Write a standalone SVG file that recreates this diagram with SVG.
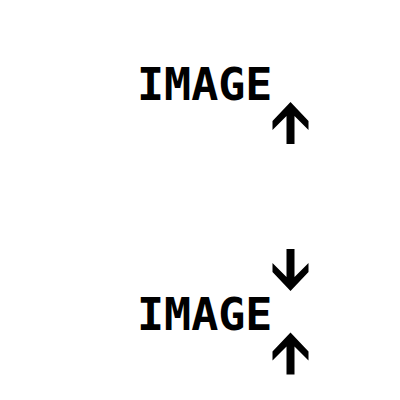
<svg xmlns="http://www.w3.org/2000/svg" width="400" height="400" viewBox="0 0 400 400">
<style>
.lbl{font-family:"DejaVu Sans Mono","Liberation Mono",monospace;font-weight:bold;font-size:45px;fill:#000}
.arr{fill:#000}
</style>
<defs>
<path id="up" d="M0,0 L18,19 L18,28 L4,14 L4,42 L-4,42 L-4,14 L-18,28 L-18,19 Z"/>
</defs>
<rect width="400" height="400" fill="#fff"/>
<g id="node1">
<text class="lbl" x="137" y="99.5">IMAGE</text>
<use href="#up" class="arr" x="290.5" y="102"/>
</g>
<g id="node2">
<text class="lbl" x="137" y="329.5">IMAGE</text>
<use href="#up" class="arr" transform="translate(290.5,291) rotate(180)"/>
<use href="#up" class="arr" x="290.5" y="332.5"/>
</g>
</svg>
